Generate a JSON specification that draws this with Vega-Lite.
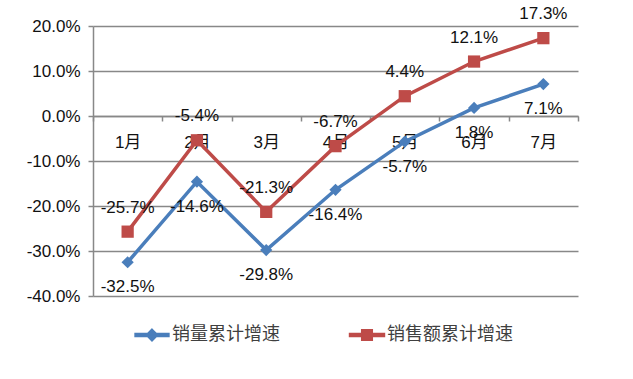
{
  "$schema": "https://vega.github.io/schema/vega-lite/v6.json",
  "width": 485,
  "height": 270,
  "autosize": {"type": "none"},
  "padding": {"left": 93, "top": 26, "right": 55, "bottom": 83},
  "background": "white",
  "config": {
    "locale": {"number": {"decimal": ".", "thousands": ",", "grouping": [3], "currency": ["", ""], "minus": "-"}},
    "view": {"stroke": null},
    "font": "'Liberation Sans', 'Noto Sans CJK SC', sans-serif",
    "legend": {
      "symbolSize": 112,
      "symbolOpacity": 1,
      "labelOffset": 11,
      "columnPadding": 66,
      "labelFontSize": 18,
      "labelColor": "#404040",
      "labelFont": "Noto Sans CJK SC",
      "padding": 0
    }
  },
  "data": {
    "values": [
      {"month": "1月", "series": "销量累计增速", "value": -0.325},
      {"month": "2月", "series": "销量累计增速", "value": -0.146},
      {"month": "3月", "series": "销量累计增速", "value": -0.298},
      {"month": "4月", "series": "销量累计增速", "value": -0.164},
      {"month": "5月", "series": "销量累计增速", "value": -0.057},
      {"month": "6月", "series": "销量累计增速", "value": 0.018},
      {"month": "7月", "series": "销量累计增速", "value": 0.071},
      {"month": "1月", "series": "销售额累计增速", "value": -0.257},
      {"month": "2月", "series": "销售额累计增速", "value": -0.054},
      {"month": "3月", "series": "销售额累计增速", "value": -0.213},
      {"month": "4月", "series": "销售额累计增速", "value": -0.067},
      {"month": "5月", "series": "销售额累计增速", "value": 0.044},
      {"month": "6月", "series": "销售额累计增速", "value": 0.121},
      {"month": "7月", "series": "销售额累计增速", "value": 0.173}
    ]
  },
  "encoding": {
    "x": {
      "field": "month",
      "type": "ordinal",
      "sort": ["1月", "2月", "3月", "4月", "5月", "6月", "7月"],
      "scale": {"type": "band", "paddingInner": 0, "paddingOuter": 0},
      "bandPosition": 0.5,
      "axis": {
        "title": null,
        "orient": "bottom",
        "offset": -180,
        "grid": false,
        "domainColor": "#888888",
        "domainWidth": 1.5,
        "tickColor": "#888888",
        "tickWidth": 1.5,
        "tickSize": 5,
        "tickBand": "extent",
        "labelAngle": 0,
        "labelFontSize": 17,
        "labelColor": "#111111",
        "labelPadding": 13
      }
    },
    "y": {
      "field": "value",
      "type": "quantitative",
      "scale": {"domain": [-0.4, 0.2], "nice": false, "zero": false},
      "axis": {
        "title": null,
        "values": [-0.4, -0.3, -0.2, -0.1, 0, 0.1, 0.2],
        "format": ".1%",
        "grid": true,
        "gridColor": "#888888",
        "gridWidth": 1.5,
        "domainColor": "#888888",
        "domainWidth": 1.5,
        "tickColor": "#888888",
        "tickWidth": 1.5,
        "tickSize": 5,
        "labelFontSize": 17,
        "labelColor": "#111111",
        "labelPadding": 8
      }
    },
    "color": {
      "field": "series",
      "type": "nominal",
      "scale": {"domain": ["销量累计增速", "销售额累计增速"], "range": ["#4A7EBB", "#BE4B48"]},
      "legend": {"title": null, "orient": "none", "direction": "horizontal", "legendX": 50, "legendY": 300}
    }
  },
  "layer": [
    {"mark": {"type": "line", "strokeWidth": 3.5}},
    {
      "transform": [{"filter": "datum.series === '销量累计增速'"}],
      "mark": {"type": "point", "filled": true, "opacity": 1, "size": 150, "shape": "diamond"}
    },
    {
      "transform": [{"filter": "datum.series === '销售额累计增速'"}],
      "mark": {"type": "point", "filled": true, "opacity": 1, "size": 150, "shape": "square"}
    },
    {
      "mark": {"type": "point", "filled": true, "opacity": 0, "size": 10},
      "encoding": {
        "shape": {
          "field": "series",
          "type": "nominal",
          "scale": {
            "domain": ["销量累计增速", "销售额累计增速"],
            "range": [
              "M-3.2,-0.26H3.2V0.26H-3.2Z M0,-1.1L1.1,0L0,1.1L-1.1,0Z",
              "M-3.3,-0.26H3.3V0.26H-3.3Z M-1,-1H1V1H-1Z"
            ]
          },
          "legend": {"title": null, "orient": "none", "direction": "horizontal", "legendX": 50, "legendY": 300}
        }
      }
    },
    {
      "transform": [{"filter": "datum.series === '销量累计增速'"}],
      "mark": {"type": "text", "fontSize": 17, "dy": 25, "baseline": "middle", "color": "#111111"},
      "encoding": {"text": {"field": "value", "type": "quantitative", "format": ".1%"}, "color": {"value": "#111111"}}
    },
    {
      "transform": [{"filter": "datum.series === '销售额累计增速'"}],
      "mark": {"type": "text", "fontSize": 17, "dy": -24, "baseline": "middle", "color": "#111111"},
      "encoding": {"text": {"field": "value", "type": "quantitative", "format": ".1%"}, "color": {"value": "#111111"}}
    }
  ]
}
